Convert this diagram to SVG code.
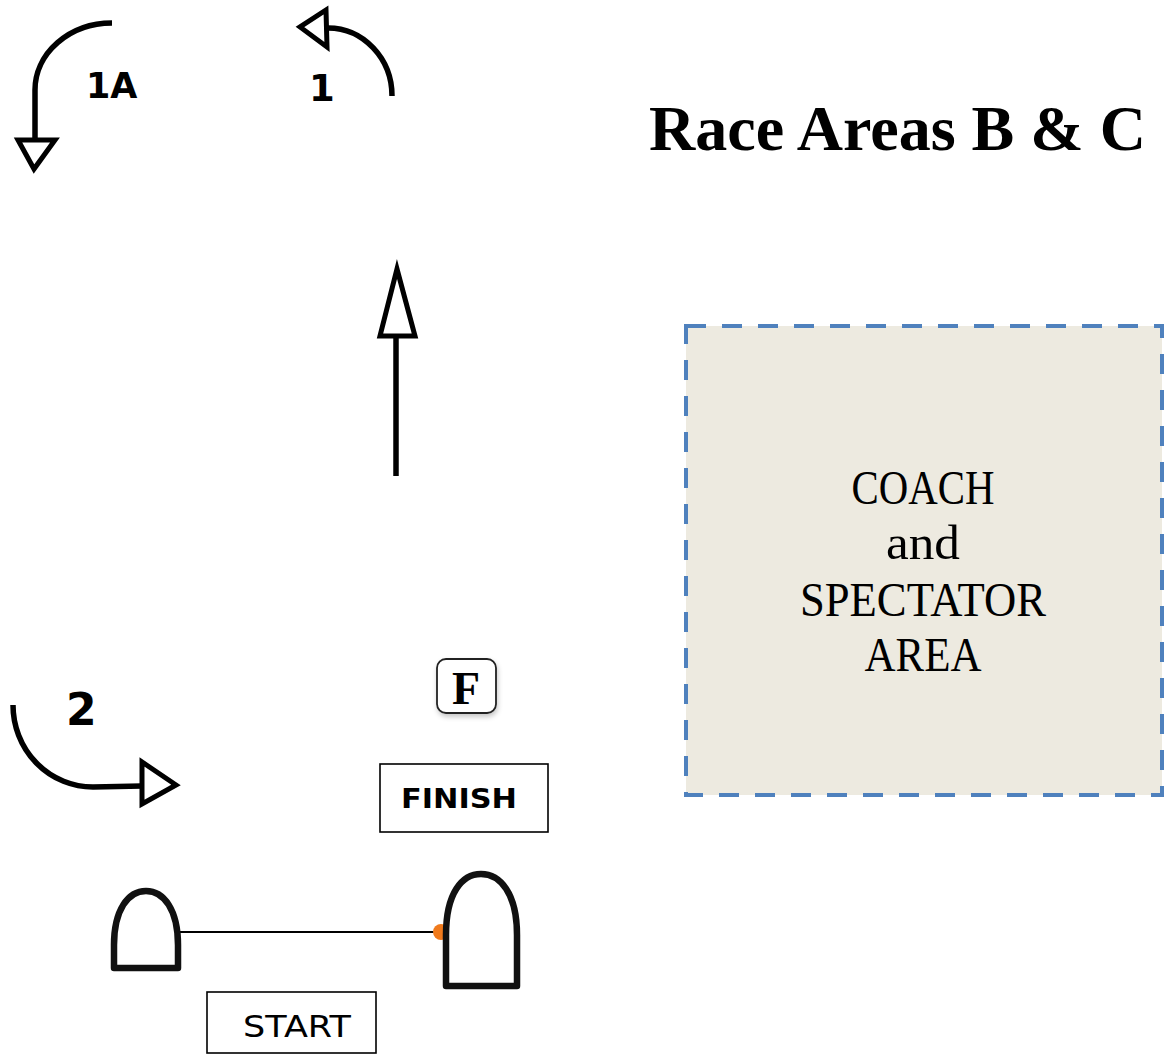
<svg xmlns="http://www.w3.org/2000/svg" width="1165" height="1055" viewBox="0 0 1165 1055">
<defs>
<style>
.arr{fill:none;stroke:#000;stroke-width:5.5;stroke-linejoin:miter}
.head{fill:#fff;stroke:#000;stroke-width:5;stroke-linejoin:miter}
.lbl{font-family:"DejaVu Sans","Liberation Sans",sans-serif;font-weight:bold;fill:#000}
.buoy{fill:#fff;stroke:#111;stroke-width:6.5;stroke-linejoin:round}
.box{fill:#fff;stroke:#000;stroke-width:1.6}
.area{font-family:"Liberation Serif","DejaVu Serif",serif;font-size:48px;fill:#000;text-anchor:middle}
</style>
<filter id="sh" x="-20%" y="-20%" width="150%" height="150%">
<feDropShadow dx="1" dy="3" stdDeviation="2.5" flood-color="#000" flood-opacity="0.22"/>
</filter>
</defs>
<rect width="1165" height="1055" fill="#fff"/>

<g id="title">
<text x="649" y="150" font-family="Liberation Serif,serif" font-weight="bold" font-size="64" textLength="497" lengthAdjust="spacingAndGlyphs">Race Areas B &amp; C</text>
</g>

<g id="coach-area">
<rect x="686" y="326" width="476" height="469" fill="#edeae0" stroke="#4f81bd" stroke-width="4" stroke-dasharray="20 16"/>
<text class="area" x="923" y="504" textLength="143" lengthAdjust="spacingAndGlyphs">COACH</text>
<text class="area" x="923" y="559" textLength="74" lengthAdjust="spacingAndGlyphs">and</text>
<text class="area" x="923" y="616" textLength="246" lengthAdjust="spacingAndGlyphs">SPECTATOR</text>
<text class="area" x="923" y="671" textLength="117" lengthAdjust="spacingAndGlyphs">AREA</text>
</g>

<g id="connectors">
<g id="arrow-1A">
<path class="arr" d="M112,23 A77,67 0 0 0 35,90 L35,139"/>
<polygon class="head" points="18,140 55,140 34,169"/>
</g>
<g id="arrow-1">
<path class="arr" d="M392,96 A64,68 0 0 0 328,28"/>
<polygon class="head" points="326,10 327,47 300,27"/>
</g>
<g id="arrow-up">
<path class="arr" d="M396,476 L396,338"/>
<polygon class="head" points="380,336 415,336 397,269"/>
</g>
<g id="arrow-2">
<path class="arr" d="M13,705 A80,82 0 0 0 93,787 L142,786"/>
<polygon class="head" points="142,762 142,804 176,785"/>
</g>
<g id="start-line">
<line x1="178" y1="932" x2="442" y2="932" stroke="#000" stroke-width="2"/>
</g>
</g>

<g id="label-1A"><text class="lbl" x="86" y="98" font-size="35">1A</text></g>
<g id="label-1"><text class="lbl" x="309" y="101" font-size="37">1</text></g>
<g id="label-2"><text class="lbl" x="66" y="725" font-size="44">2</text></g>

<g id="flag-F">
<rect x="437" y="659" width="59" height="54" rx="9" fill="#fff" stroke="#222" stroke-width="1.8" filter="url(#sh)"/>
<text x="466" y="704" font-family="Liberation Serif,serif" font-weight="bold" font-size="46" text-anchor="middle">F</text>
</g>

<g id="finish">
<rect class="box" x="380" y="764" width="168" height="68"/>
<text x="401" y="808" font-family="DejaVu Sans,sans-serif" font-weight="bold" font-size="27" textLength="116" lengthAdjust="spacingAndGlyphs">FINISH</text>
</g>

<g id="buoy-left">
<path class="buoy" d="M114,968 L114,945 C114,910 128,891 146,891 C164,891 178,910 178,945 L178,968 Z"/>
</g>
<g id="buoy-right">
<circle cx="441" cy="932" r="8" fill="#f07a1c"/>
<path class="buoy" d="M446,986 L446,935 C446,893 462,874 481,874 C500,874 517,893 517,935 L517,986 Z"/>
</g>

<g id="start">
<rect class="box" x="207" y="992" width="169" height="61"/>
<text x="243" y="1037" font-family="DejaVu Sans,sans-serif" font-size="30" textLength="108" lengthAdjust="spacingAndGlyphs">START</text>
</g>
</svg>
